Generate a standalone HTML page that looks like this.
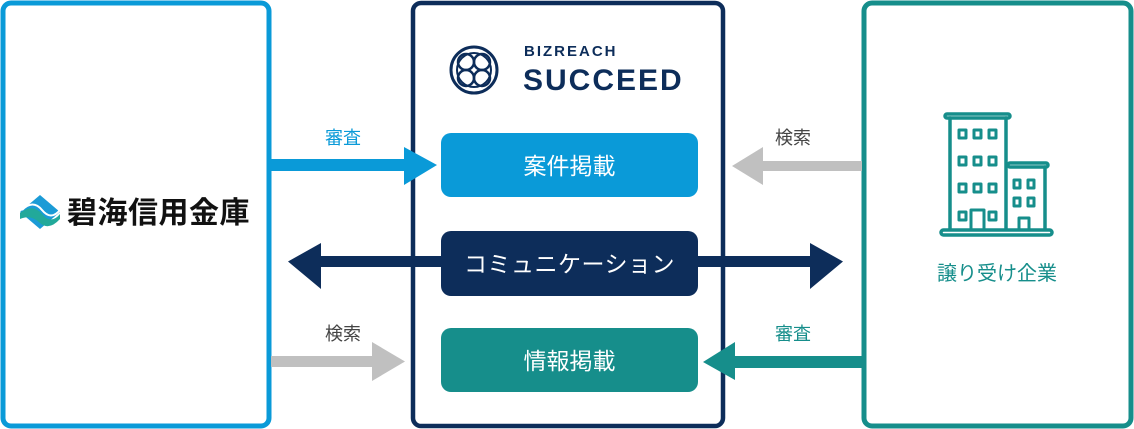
<!DOCTYPE html>
<html><head><meta charset="utf-8"><style>
html,body{margin:0;padding:0;background:#fff;width:1134px;height:429px;overflow:hidden}
svg{display:block}
text{font-family:"Liberation Sans","Noto Sans CJK JP",sans-serif}
</style></head><body>
<svg width="1134" height="429" viewBox="0 0 1134 429" xmlns="http://www.w3.org/2000/svg">
<rect x="3" y="3" width="266" height="423" rx="8" fill="#fff" stroke="#0a9ad8" stroke-width="5"/>
<rect x="413" y="3" width="310" height="423" rx="8" fill="#fff" stroke="#0d2d5a" stroke-width="4.5"/>
<rect x="864" y="3" width="267" height="423" rx="8" fill="#fff" stroke="#168e8b" stroke-width="5"/>

<rect x="271" y="159" width="136" height="12" fill="#0a9ad8"/>
<polygon points="404,147 437,165 404,185" fill="#0a9ad8"/>
<text x="343" y="144" font-size="18" fill="#0a9ad8" text-anchor="middle">審査</text>

<rect x="318" y="256" width="495" height="11" fill="#0d2d5a"/>
<polygon points="321,243 288,261.5 321,289" fill="#0d2d5a"/>
<polygon points="810,243 843,261.5 810,289" fill="#0d2d5a"/>

<rect x="271" y="356" width="103" height="11" fill="#c0c0c0"/>
<polygon points="372,342 405,361.5 372,381" fill="#c0c0c0"/>
<text x="343" y="340" font-size="18" fill="#444" text-anchor="middle">検索</text>

<rect x="761" y="161" width="101" height="10" fill="#c0c0c0"/>
<polygon points="763,147 732,166 763,185" fill="#c0c0c0"/>
<text x="793" y="144" font-size="18" fill="#444" text-anchor="middle">検索</text>

<rect x="733" y="356" width="129" height="12" fill="#168e8b"/>
<polygon points="735,342 703,362 735,380" fill="#168e8b"/>
<text x="793" y="340" font-size="18" fill="#168e8b" text-anchor="middle">審査</text>

<rect x="441" y="133" width="257" height="64" rx="10" fill="#0a9ad8"/>
<text x="569.5" y="174" font-size="23" fill="#fff" text-anchor="middle">案件掲載</text>
<rect x="441" y="231" width="257" height="65" rx="10" fill="#0d2d5a"/>
<text x="569.5" y="272" font-size="23" fill="#fff" text-anchor="middle" letter-spacing="0.5">コミュニケーション</text>
<rect x="441" y="328" width="257" height="64" rx="10" fill="#168e8b"/>
<text x="569.5" y="369" font-size="23" fill="#fff" text-anchor="middle">情報掲載</text>

<g fill="none" stroke="#0d2d5a" stroke-width="3">
<circle cx="474" cy="70" r="23"/>
<circle cx="466" cy="62" r="8" stroke-width="2.5"/><circle cx="482" cy="62" r="8" stroke-width="2.5"/>
<circle cx="466" cy="78" r="8" stroke-width="2.5"/><circle cx="482" cy="78" r="8" stroke-width="2.5"/>
<circle cx="474" cy="70" r="17" stroke-width="2"/>
</g>
<text x="524" y="56" font-size="15" font-weight="bold" fill="#0d2d5a" letter-spacing="2">BIZREACH</text>
<text x="523" y="90" font-size="30" font-weight="bold" fill="#0d2d5a" letter-spacing="2">SUCCEED</text>

<polygon points="20,212 40,195 60,212 40,229" fill="#1b9bd6"/>
<path d="M20,213 Q33,203 42,214 Q51,225 60,214 L60,219 Q49,231 40,223 Q31,214 20,219Z" fill="#22a99a"/>
<path d="M22,210 Q33,199 42,210 Q51,221 60,210" stroke="#fff" stroke-width="2" fill="none"/>
<text x="67" y="223" font-size="30" font-weight="bold" fill="#111" letter-spacing="0.5">碧海信用金庫</text>

<g fill="none" stroke="#168e8b" stroke-width="3.5" stroke-linejoin="round" stroke-linecap="round">
<rect x="945" y="114" width="65" height="4" rx="2"/>
<line x1="950" y1="118" x2="950" y2="229"/><line x1="1006" y1="118" x2="1006" y2="229"/>
<rect x="1008" y="163" width="40" height="4" rx="2"/>
<line x1="1045" y1="167" x2="1045" y2="229"/>
<rect x="941" y="230" width="111" height="5" rx="2.5"/>
<g stroke-width="3">
<rect x="959" y="130" width="7" height="8"/><rect x="974" y="130" width="7" height="8"/><rect x="989" y="130" width="7" height="8"/>
<rect x="959" y="157" width="7" height="8"/><rect x="974" y="157" width="7" height="8"/><rect x="989" y="157" width="7" height="8"/>
<rect x="959" y="184" width="7" height="8"/><rect x="974" y="184" width="7" height="8"/><rect x="989" y="184" width="7" height="8"/>
<rect x="959" y="212" width="7" height="8"/><rect x="989" y="212" width="7" height="8"/>
<path d="M971,229 V210 H984 V229"/>
<rect x="1014" y="180" width="6" height="8"/><rect x="1028" y="180" width="6" height="8"/>
<rect x="1014" y="198" width="6" height="8"/><rect x="1028" y="198" width="6" height="8"/>
<path d="M1019,229 V218 H1029 V229"/>
</g>
</g>
<text x="997" y="280" font-size="20" fill="#168e8b" text-anchor="middle">譲り受け企業</text>
</svg>
</body></html>
